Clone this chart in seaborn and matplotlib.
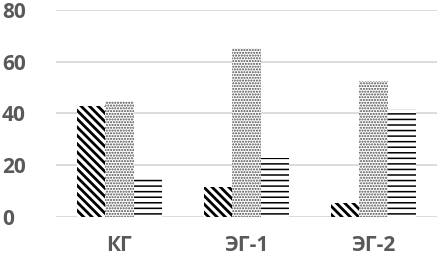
import matplotlib
matplotlib.use("Agg")
import matplotlib.pyplot as plt
import pandas as pd
import seaborn as sns

groups = ["КГ", "ЭГ-1", "ЭГ-2"]
series = ["s1", "s2", "s3"]
values_s1 = [42.8, 11.6, 5.4]
values_s2 = [44.9, 65.4, 52.5]
values_s3 = [14.6, 22.8, 41.5]
y_ticks = [0, 20, 40, 60, 80]

df = pd.DataFrame({
    "group": groups * 3,
    "series": [s for s in series for _ in groups],
    "value": values_s1 + values_s2 + values_s3,
})

sns.set_style("white")
plt.rcParams["font.family"] = ["Open Sans", "DejaVu Sans"]

fig = plt.figure(figsize=(4.37, 2.57), dpi=100)
ax = fig.add_axes([0.128, 0.157, 0.872, 0.804])

sns.barplot(data=df, x="group", y="value", hue="series", order=groups,
            hue_order=series, width=0.67, legend=False, ax=ax, zorder=3)

# штриховки: диагональ, точки, горизонтальные линии
styles = [
    ("\\\\\\\\", "black", 2.0),
    ("......", "#4a4a4a", 1.0),
    ("---", "black", 1.1),
]
for cont, (hatch, col, hlw) in zip(ax.containers, styles):
    for bar in cont:
        bar.set_facecolor("white")
        bar.set_edgecolor(col)
        bar.set_linewidth(0)
        bar.set_hatch(hatch)
        if hasattr(bar, "set_hatch_linewidth"):
            bar.set_hatch_linewidth(hlw)

ax.set_ylim(0, 80)
ax.set_xlim(-0.5, 2.5)
ax.set_yticks(y_ticks)
ax.yaxis.grid(True, color="#d9d9d9", linewidth=1.3, zorder=0)
ax.set_axisbelow(True)
for s in ax.spines.values():
    s.set_visible(False)

ax.set_xlabel("")
ax.set_ylabel("")
ax.tick_params(axis="y", length=0, pad=39, labelsize=15, labelcolor="#595959")
ax.tick_params(axis="x", length=0, pad=13, labelsize=15, labelcolor="#595959")
for lab in ax.get_yticklabels():
    lab.set_ha("left")
    lab.set_fontweight("bold")
for lab in ax.get_xticklabels():
    lab.set_fontweight("bold")

fig.savefig("out.png", dpi=100)
